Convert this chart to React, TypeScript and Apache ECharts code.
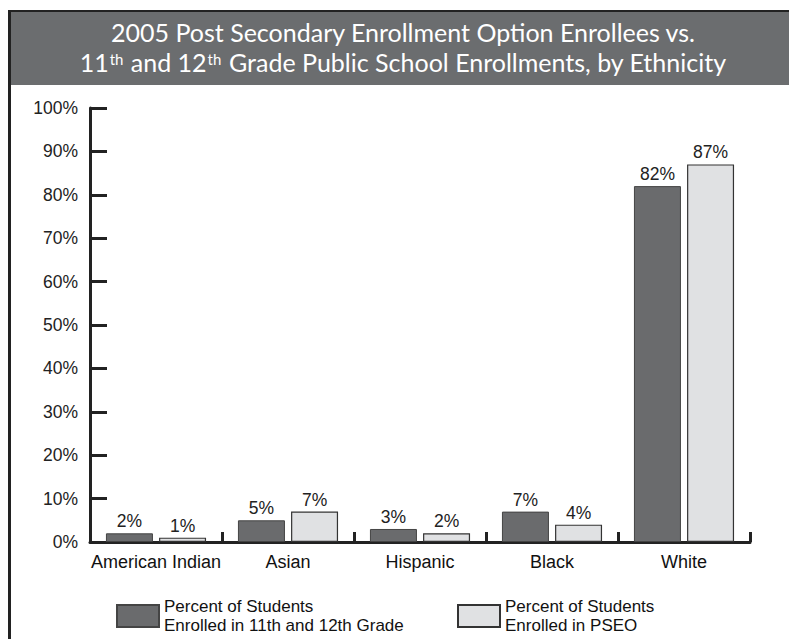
import React, { useEffect, useRef } from "react";
import * as echarts from "echarts";

const categories = ["American Indian", "Asian", "Hispanic", "Black", "White"];
const gradeValues = [2, 5, 3, 7, 82];
const pseoValues = [1, 7, 2, 4, 87];
const seriesNames = [
  "Percent of Students\nEnrolled in 11th and 12th Grade",
  "Percent of Students\nEnrolled in PSEO",
];
const yTicks = [0, 10, 20, 30, 40, 50, 60, 70, 80, 90, 100];
const titleLines = [
  "2005 Post Secondary Enrollment Option Enrollees vs.",
  "11{s|th} and 12{s|th} Grade Public School Enrollments, by Ethnicity",
];

export default function App() {
  const ref = useRef<HTMLDivElement>(null);
  useEffect(() => {
    if (!ref.current) return;
    const chart = echarts.init(ref.current, undefined, { renderer: "svg" });
    const font = "'Liberation Sans', Arial, sans-serif";
    const titleFont = "Lato, 'Open Sans', sans-serif";
    const labelCommon = {
      show: true,
      position: "top",
      formatter: "{c}%",
      color: "#222",
      fontSize: 17.5,
      fontFamily: font,
      distance: 3,
    };
    const legendCommon = {
      orient: "horizontal",
      top: 592,
      itemWidth: 42,
      itemHeight: 22,
      icon: "rect",
      itemGap: 6,
      textStyle: {
        fontSize: 17,
        fontFamily: font,
        color: "#111",
        lineHeight: 19,
      },
      selectedMode: false,
    };
    const titleStyle = {
      color: "#fff",
      fontSize: 25,
      fontWeight: "normal",
      fontFamily: titleFont,
      lineHeight: 28,
      rich: {
        s: {
          color: "#fff",
          fontSize: 15,
          fontFamily: titleFont,
          verticalAlign: "top",
          lineHeight: 15,
          padding: [3, 1, 0, 1],
        },
      },
    };
    chart.setOption({
      animation: false,
      backgroundColor: "#fff",
      graphic: [
        {
          type: "rect",
          shape: { x: 9, y: 12, width: 800, height: 73 },
          style: { fill: "#6b6d6f" },
          z: 0,
        },
        {
          type: "line",
          shape: { x1: 8, y1: 11, x2: 800, y2: 11 },
          style: { stroke: "#222", lineWidth: 2 },
        },
        {
          type: "line",
          shape: { x1: 9.5, y1: 10, x2: 9.5, y2: 650 },
          style: { stroke: "#222", lineWidth: 3 },
        },
      ],
      title: [
        { text: titleLines[0], left: 403, top: 18, textAlign: "center", padding: 0, textStyle: titleStyle },
        { text: titleLines[1], left: 403, top: 48, textAlign: "center", padding: 0, textStyle: titleStyle },
      ],
      legend: [
        { ...legendCommon, data: [seriesNames[0]], left: 111, itemGap: 5 },
        { ...legendCommon, data: [seriesNames[1]], left: 452 },
      ],
      grid: { left: 90, right: 39, top: 108, bottom: 97, containLabel: false },
      xAxis: {
        type: "category",
        data: categories,
        axisLine: { show: true, lineStyle: { color: "#222", width: 3 } },
        axisTick: { show: true, inside: true, length: 10, lineStyle: { color: "#222", width: 3 } },
        axisLabel: { color: "#111", fontSize: 18, fontFamily: font, margin: 11, interval: 0 },
      },
      yAxis: {
        type: "value",
        min: 0,
        max: 100,
        interval: 10,
        axisLine: { show: true, lineStyle: { color: "#222", width: 3 } },
        axisTick: { show: true, inside: true, length: 17, lineStyle: { color: "#222", width: 3 } },
        axisLabel: {
          color: "#222",
          fontSize: 17.5,
          fontFamily: font,
          margin: 12,
          formatter: (v: number) => (yTicks.includes(v) ? v + "%" : ""),
        },
        splitLine: { show: false },
      },
      series: [
        {
          name: seriesNames[0],
          type: "bar",
          data: gradeValues,
          barWidth: 47,
          barGap: "13%",
          itemStyle: { color: "#6a6b6d", borderColor: "#444", borderWidth: 1 },
          label: labelCommon,
        },
        {
          name: seriesNames[1],
          type: "bar",
          data: pseoValues,
          barWidth: 47,
          itemStyle: { color: "#e0e1e3", borderColor: "#333", borderWidth: 1.2 },
          label: labelCommon,
        },
      ],
    });
    return () => chart.dispose();
  }, []);
  return (
    <div
      ref={ref}
      style={{ position: "fixed", left: 0, top: 0, width: 789, height: 639 }}
    />
  );
}
